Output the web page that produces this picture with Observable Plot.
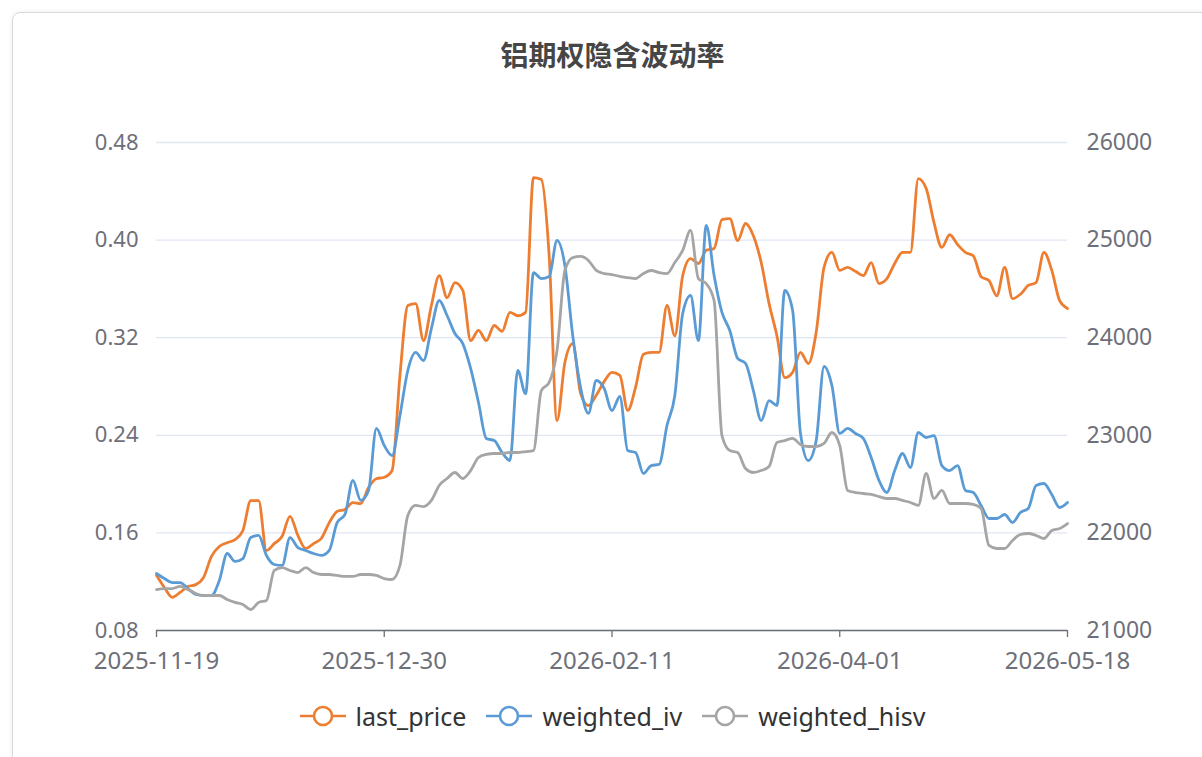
<!DOCTYPE html>
<html><head><meta charset="utf-8">
<script src="https://cdn.jsdelivr.net/npm/d3@7"></script>
<script src="https://cdn.jsdelivr.net/npm/@observablehq/plot@0.6"></script>
<style>
body{margin:0;background:#fff;font-family:"Noto Sans",sans-serif;overflow:hidden;}
#card{position:absolute;left:12px;top:12px;width:1210px;height:780px;border:1px solid #dadada;border-radius:8px;box-shadow:0 0 4px rgba(0,0,0,0.08);}
#title{position:absolute;left:0;width:1225px;top:34px;text-align:center;font-family:"Noto Sans CJK SC";font-weight:bold;font-size:28px;color:#464646;line-height:40px;}
#chart{position:absolute;left:0;top:100px;width:1202px;height:600px;}
#chart svg{position:absolute;left:0;top:0;}
#legend{position:absolute;left:0;width:1225px;top:700px;height:32px;display:flex;justify-content:center;align-items:center;gap:20px;font-family:"Noto Sans";font-size:25px;color:#333;}
.item{display:flex;align-items:center;gap:10px;}
</style></head>
<body>
<div id="card"></div>
<div id="title">铝期权隐含波动率</div>
<div id="chart"></div>
<div id="legend"></div>
<script>
const dates = [
"2025-11-19","2025-11-20","2025-11-21","2025-11-24","2025-11-25","2025-11-26","2025-11-27","2025-11-28",
"2025-12-01","2025-12-02","2025-12-03","2025-12-04","2025-12-05","2025-12-08","2025-12-09","2025-12-10","2025-12-11","2025-12-12",
"2025-12-15","2025-12-16","2025-12-17","2025-12-18","2025-12-19","2025-12-22","2025-12-23","2025-12-24","2025-12-25","2025-12-26",
"2025-12-29","2025-12-30","2025-12-31",
"2026-01-05","2026-01-06","2026-01-07","2026-01-08","2026-01-09","2026-01-12","2026-01-13","2026-01-14","2026-01-15","2026-01-16",
"2026-01-19","2026-01-20","2026-01-21","2026-01-22","2026-01-23","2026-01-26","2026-01-27","2026-01-28","2026-01-29","2026-01-30",
"2026-02-02","2026-02-03","2026-02-04","2026-02-05","2026-02-06","2026-02-09","2026-02-10","2026-02-11","2026-02-12","2026-02-13",
"2026-02-24","2026-02-25","2026-02-26","2026-02-27",
"2026-03-02","2026-03-03","2026-03-04","2026-03-05","2026-03-06","2026-03-09","2026-03-10","2026-03-11","2026-03-12","2026-03-13",
"2026-03-16","2026-03-17","2026-03-18","2026-03-19","2026-03-20","2026-03-23","2026-03-24","2026-03-25","2026-03-26","2026-03-27",
"2026-03-30","2026-03-31",
"2026-04-01","2026-04-02","2026-04-03","2026-04-07","2026-04-08","2026-04-09","2026-04-10","2026-04-13","2026-04-14","2026-04-15",
"2026-04-16","2026-04-17","2026-04-20","2026-04-21","2026-04-22","2026-04-23","2026-04-24","2026-04-27","2026-04-28","2026-04-29",
"2026-04-30","2026-05-06","2026-05-07","2026-05-08","2026-05-11","2026-05-12","2026-05-13","2026-05-14","2026-05-15","2026-05-18"
];

const lastPrice = [
21565,21440,21340,21390,21450,21470,21545,21760,21860,21900,
21930,22025,22330,22330,21820,21890,21965,22170,21975,21840,
21890,21945,22105,22220,22240,22310,22300,22465,22555,22570,
22640,23615,24330,24350,23970,24330,24635,24410,24565,24485,
23970,24075,23970,24125,24065,24260,24225,24260,25640,25620,
24840,23150,23745,23940,23430,23305,23410,23550,23645,23615,
23255,23490,23830,23850,23850,24330,24020,24635,24810,24760,
24895,24915,25210,25220,24995,25170,25045,24770,24350,24020,
23590,23645,23850,23735,24055,24720,24875,24690,24720,24680,
24635,24770,24555,24605,24760,24875,24875,25630,25530,25180,
24925,25055,24955,24875,24840,24625,24585,24430,24720,24400,
24445,24535,24565,24875,24690,24380,24300
];

const weightedIv = [
0.1267,0.1226,0.1193,0.1193,0.1144,0.1095,0.1087,0.1087,0.1210,0.1431,
0.1366,0.1390,0.1562,0.1579,0.1415,0.1341,0.1333,0.1562,0.1480,0.1456,
0.1431,0.1415,0.1456,0.1685,0.1751,0.2030,0.1866,0.1948,0.2456,0.2316,
0.2234,0.2562,0.2931,0.3079,0.3013,0.3275,0.3505,0.3382,0.3234,0.3152,
0.2948,0.2669,0.2374,0.2357,0.2259,0.2193,0.2931,0.2740,0.3734,0.3685,
0.3702,0.3997,0.3792,0.3218,0.2792,0.2579,0.2849,0.2784,0.2603,0.2718,
0.2275,0.2259,0.2087,0.2152,0.2161,0.2480,0.2726,0.3398,0.3546,0.3177,
0.4120,0.3710,0.3407,0.3259,0.3030,0.2989,0.2767,0.2521,0.2685,0.2644,
0.3587,0.3423,0.2415,0.2193,0.2357,0.2964,0.2808,0.2415,0.2456,0.2415,
0.2374,0.2218,0.2030,0.1931,0.2111,0.2251,0.2136,0.2423,0.2382,0.2398,
0.2152,0.2111,0.2152,0.1948,0.1931,0.1825,0.1718,0.1718,0.1751,0.1685,
0.1767,0.1800,0.1989,0.2005,0.1915,0.1808,0.1849
];

const weightedHisv = [
0.1136,0.1144,0.1144,0.1161,0.1136,0.1103,0.1087,0.1087,0.1087,0.1054,
0.1030,0.1013,0.0972,0.1030,0.1046,0.1292,0.1316,0.1292,0.1275,0.1316,
0.1275,0.1259,0.1259,0.1251,0.1243,0.1243,0.1259,0.1259,0.1251,0.1226,
0.1218,0.1333,0.1743,0.1825,0.1816,0.1866,0.1989,0.2046,0.2095,0.2046,
0.2111,0.2218,0.2243,0.2251,0.2251,0.2259,0.2259,0.2267,0.2275,0.2767,
0.2833,0.3095,0.3751,0.3857,0.3866,0.3833,0.3751,0.3726,0.3718,0.3702,
0.3693,0.3685,0.3726,0.3751,0.3734,0.3726,0.3816,0.3915,0.4079,0.3685,
0.3644,0.3505,0.2398,0.2275,0.2259,0.2128,0.2095,0.2111,0.2144,0.2341,
0.2357,0.2374,0.2325,0.2308,0.2308,0.2333,0.2423,0.2316,0.1948,0.1931,
0.1923,0.1915,0.1898,0.1882,0.1882,0.1866,0.1849,0.1825,0.2087,0.1882,
0.1948,0.1841,0.1841,0.1841,0.1833,0.1800,0.1497,0.1472,0.1472,0.1538,
0.1587,0.1595,0.1579,0.1554,0.1620,0.1636,0.1677
];

const dateTicks = ["2025-11-19","2025-12-30","2026-02-11","2026-04-01","2026-05-18"];
const ivTicks = [0.08,0.16,0.24,0.32,0.40,0.48];
const priceTicks = [21000,22000,23000,24000,25000,26000];
const seriesNames = ["last_price","weighted_iv","weighted_hisv"];
const seriesColors = ["#ED7D31","#5B9BD5","#A5A5A5"];

const rows = dates.map((d,i)=>({date:d, price:lastPrice[i], iv:weightedIv[i], hisv:weightedHisv[i]}));

const W=1202, H=600;
const common = {
  width:W, height:H, marginTop:42, marginBottom:70, marginLeft:156, marginRight:135,
  style:{background:"transparent", fontFamily:"Noto Sans", fontSize:"23px", overflow:"visible"}
};
const axisColor = "#6e7079";

const pricePlot = Plot.plot({
  ...common,
  x:{type:"point", domain:dates, padding:0, axis:null},
  y:{domain:[21000,26000], axis:null},
  marks:[
    Plot.gridY(priceTicks, {stroke:"#e0e6f1", strokeOpacity:1, strokeWidth:1.3}),
    Plot.axisY(priceTicks, {anchor:"right", tickSize:0, tickPadding:19, color:axisColor, fontSize:23, tickFormat:d=>String(d), label:null}),
    Plot.axisX(dateTicks, {anchor:"bottom", tickSize:7, tickPadding:14, color:axisColor, fontSize:24, label:null, strokeWidth:1.3}),
    Plot.ruleY([21000], {stroke:axisColor, strokeWidth:1.3}),
    Plot.line(rows, {x:"date", y:"price", stroke:seriesColors[0], strokeWidth:2.8, curve:"monotone-x"})
  ]
});

const volPlot = Plot.plot({
  ...common,
  x:{type:"point", domain:dates, padding:0, axis:null},
  y:{domain:[0.08,0.48], axis:null},
  marks:[
    Plot.axisY(ivTicks, {anchor:"left", tickSize:0, tickPadding:18, color:axisColor, fontSize:22, tickFormat:d=>d.toFixed(2), label:null}),
    Plot.line(rows, {x:"date", y:"iv", stroke:seriesColors[1], strokeWidth:2.8, curve:"monotone-x"}),
    Plot.line(rows, {x:"date", y:"hisv", stroke:seriesColors[2], strokeWidth:2.8, curve:"monotone-x"})
  ]
});

const chart = document.getElementById("chart");
chart.appendChild(pricePlot);
chart.appendChild(volPlot);

const legend = document.getElementById("legend");
seriesNames.forEach((name,i)=>{
  const item = document.createElement("div");
  item.className = "item";
  item.innerHTML = `<svg width="46" height="24"><line x1="0" x2="46" y1="12" y2="12" stroke="${seriesColors[i]}" stroke-width="2.6"/><circle cx="23" cy="12" r="9" fill="#fff" stroke="${seriesColors[i]}" stroke-width="2.6"/></svg><span>${name}</span>`;
  legend.appendChild(item);
});
</script>
</body></html>
